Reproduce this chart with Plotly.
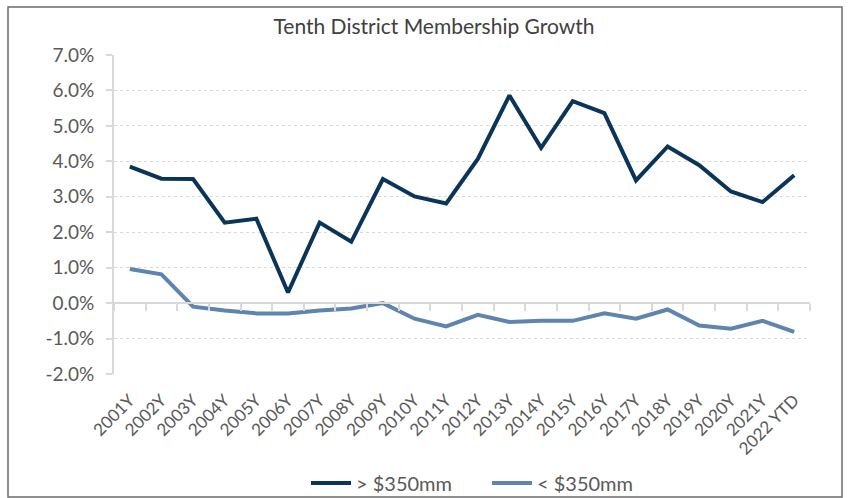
import plotly.graph_objects as go

years = ["2001Y", "2002Y", "2003Y", "2004Y", "2005Y", "2006Y", "2007Y", "2008Y",
         "2009Y", "2010Y", "2011Y", "2012Y", "2013Y", "2014Y", "2015Y", "2016Y",
         "2017Y", "2018Y", "2019Y", "2020Y", "2021Y", "2022 YTD"]
large_banks = [3.85, 3.51, 3.50, 2.27, 2.38, 0.30, 2.27, 1.73, 3.50, 3.01, 2.81,
               4.07, 5.86, 4.38, 5.70, 5.36, 3.46, 4.42, 3.89, 3.15, 2.85, 3.61]
small_banks = [0.96, 0.81, -0.10, -0.21, -0.29, -0.29, -0.21, -0.15, 0.00, -0.44, -0.66,
               -0.33, -0.53, -0.50, -0.50, -0.29, -0.44, -0.18, -0.63, -0.72, -0.50, -0.81]
y_ticks = [-2, -1, 0, 1, 2, 3, 4, 5, 6, 7]
y_min, y_max = -2, 7

FONT = "Lato"
GRID = "#d9d9d9"
TXT = "#595959"

fig = go.Figure()
# invisible trace to carry the zero-line category axis
fig.add_trace(go.Scatter(x=years, y=small_banks, xaxis="x2", mode="lines",
                         line=dict(width=0), opacity=0, showlegend=False,
                         hoverinfo="skip"))
fig.add_trace(go.Scatter(x=years, y=large_banks, mode="lines", name="> $350mm",
                         line=dict(color="#0b3558", width=4)))
fig.add_trace(go.Scatter(x=years, y=small_banks, mode="lines", name="< $350mm",
                         line=dict(color="#5f84ad", width=4)))

L, R, T, B = 114, 44, 55, 124
W, H = 854, 498
pw, ph = W - L - R, H - T - B

def px_x(p):
    return (p - L) / pw

def px_y(p):
    return (H - B - p) / ph

fig.update_layout(
    width=W, height=H,
    margin=dict(l=L, r=R, t=T, b=B, autoexpand=False),
    paper_bgcolor="white", plot_bgcolor="white",
    font=dict(family=FONT, color=TXT, size=18),
    title=dict(text="Tenth District Membership Growth", xref="container",
               x=434 / W, xanchor="center",
               yref="container", y=1 - 27 / H, yanchor="middle",
               font=dict(family=FONT, size=21, color="#404040")),
    xaxis=dict(type="category", tickangle=-45, showgrid=False, showline=False,
               ticks="", tickfont=dict(size=17, color=TXT), zeroline=False,
               ticklabelstandoff=12,
               automargin=False, range=[-0.5, len(years) - 0.5]),
    xaxis2=dict(type="category", overlaying="x", matches="x", anchor="free",
                position=(0 - y_min) / (y_max - y_min), side="bottom",
                showticklabels=False, showgrid=False, showline=True,
                linecolor=GRID, linewidth=2, ticks="outside", ticklen=7,
                tickcolor=GRID, tickwidth=1.5, tickson="boundaries",
                automargin=False),
    yaxis=dict(range=[y_min, y_max], tickvals=y_ticks,
               ticktext=[f"{v:.1f}%" for v in y_ticks],
               showgrid=True, gridcolor=GRID, griddash="dot", gridwidth=1,
               zeroline=False, showline=True, linecolor=GRID, linewidth=2,
               ticks="outside", ticklen=6, tickcolor=GRID, tickwidth=1.5,
               ticklabelstandoff=8, automargin=False,
               tickfont=dict(size=19, color=TXT)),
    legend=dict(orientation="h", xref="container", x=487 / W, xanchor="center",
                yref="container", y=1 - 483 / H, yanchor="middle",
                font=dict(size=20, color=TXT), itemwidth=40, entrywidth=126,
                bgcolor="rgba(0,0,0,0)"),
    shapes=[dict(type="rect", xref="paper", yref="paper",
                 x0=px_x(8), x1=px_x(842), y0=px_y(497), y1=px_y(7),
                 line=dict(color="#6b6b6b", width=1.5), layer="below")],
)

fig.write_html("out.html", config={"displayModeBar": False},
               post_script="document.body.style.margin='0';")
